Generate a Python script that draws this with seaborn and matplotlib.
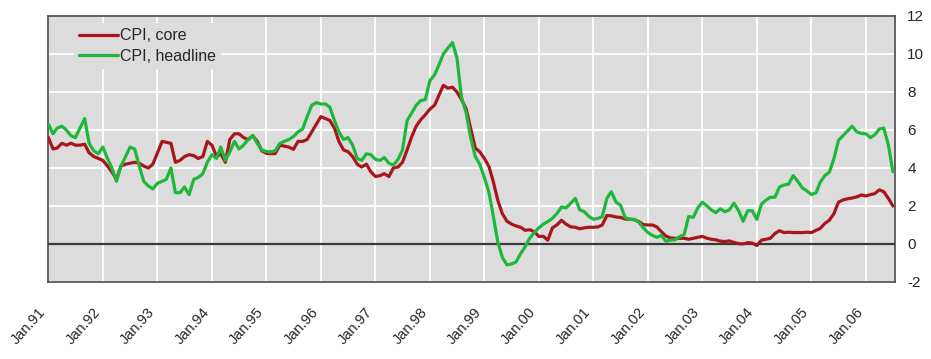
import numpy as np
import pandas as pd
import seaborn as sns
import matplotlib.pyplot as plt

# ---------------------------------------------------------
# data: monthly CPI inflation, Jan.91 - Jul.06
# ---------------------------------------------------------
core = [
    5.6, 5.0, 5.05, 5.3, 5.2, 5.3, 5.2, 5.2, 5.25, 4.8, 4.6, 4.5,
    4.4, 4.1, 3.8, 3.4, 4.1, 4.2, 4.25, 4.3, 4.25, 4.1, 4.0, 4.2,
    4.8, 5.4, 5.35, 5.3, 4.3, 4.4, 4.6, 4.7, 4.65, 4.5, 4.6, 5.4,
    5.2, 4.6, 4.75, 4.3, 5.5, 5.8, 5.8, 5.6, 5.5, 5.7, 5.4, 4.9,
    4.77, 4.75, 4.76, 5.2, 5.15, 5.1, 4.98, 5.4, 5.4, 5.5, 5.9, 6.3,
    6.7, 6.6, 6.5, 6.1, 5.4, 4.95, 4.86, 4.6, 4.2, 4.05, 4.2, 3.8,
    3.55, 3.6, 3.7, 3.55, 4.0, 4.05, 4.3, 4.95, 5.65, 6.2, 6.55, 6.8,
    7.1, 7.3, 7.8, 8.35, 8.2, 8.25, 8.0, 7.6, 7.1, 6.1, 5.05, 4.85,
    4.5, 4.07, 3.3, 2.3, 1.6, 1.2, 1.05, 0.95, 0.88, 0.72, 0.75, 0.65,
    0.4, 0.4, 0.2, 0.85, 1.0, 1.25, 1.05, 0.9, 0.88, 0.8, 0.85, 0.88,
    0.88, 0.9, 1.0, 1.5, 1.48, 1.42, 1.4, 1.32, 1.3, 1.28, 1.18, 1.02,
    1.0, 1.0, 0.9, 0.65, 0.42, 0.32, 0.3, 0.3, 0.3, 0.25, 0.3, 0.35,
    0.4, 0.3, 0.25, 0.22, 0.15, 0.13, 0.16, 0.08, 0.02, 0.0, 0.07, 0.05,
    -0.08, 0.2, 0.25, 0.3, 0.55, 0.7, 0.6, 0.62, 0.6, 0.6, 0.6, 0.62,
    0.6, 0.72, 0.82, 1.08, 1.25, 1.6, 2.2, 2.32, 2.38, 2.42, 2.48, 2.58,
    2.53, 2.6, 2.65, 2.85, 2.75, 2.4, 2.0,
]
headline = [
    6.3, 5.8, 6.1, 6.2, 6.0, 5.7, 5.6, 6.1, 6.6, 5.3, 4.9, 4.75,
    5.1, 4.5, 4.0, 3.3, 4.1, 4.6, 5.1, 5.0, 4.1, 3.3, 3.05, 2.9,
    3.2, 3.3, 3.4, 4.0, 2.7, 2.7, 3.0, 2.6, 3.4, 3.5, 3.7, 4.3,
    4.7, 4.5, 5.1, 4.4, 4.85, 5.4, 5.0, 5.2, 5.5, 5.7, 5.3, 4.95,
    4.86, 4.85, 4.9, 5.3, 5.4, 5.5, 5.65, 5.9, 6.05, 6.7, 7.3, 7.44,
    7.37, 7.37, 7.2, 6.5, 5.9, 5.5, 5.6, 5.2, 4.5, 4.4, 4.75, 4.7,
    4.45, 4.4, 4.55, 4.25, 4.15, 4.45, 4.95, 6.5, 6.9, 7.3, 7.55, 7.6,
    8.6, 8.9, 9.4, 10.0, 10.3, 10.6, 9.8, 7.7, 6.9, 5.6, 4.6, 4.2,
    3.5, 2.7, 1.5, 0.1, -0.7, -1.1, -1.05, -0.95, -0.5, -0.15, 0.3, 0.6,
    0.85, 1.05, 1.18, 1.35, 1.6, 1.95, 1.9, 2.14, 2.4, 1.8, 1.7, 1.45,
    1.3, 1.35, 1.44, 2.4, 2.75, 2.2, 2.05, 1.4, 1.3, 1.3, 1.15, 0.85,
    0.6, 0.45, 0.35, 0.45, 0.15, 0.2, 0.22, 0.38, 0.5, 1.45, 1.4, 1.9,
    2.2, 2.0, 1.8, 1.65, 1.85, 1.7, 1.8, 2.15, 1.75, 1.2, 1.75, 1.75,
    1.3, 2.1, 2.3, 2.46, 2.46, 3.0, 3.1, 3.15, 3.6, 3.3, 2.95, 2.8,
    2.6, 2.7, 3.25, 3.6, 3.78, 4.5, 5.45, 5.7, 5.95, 6.2, 5.9, 5.82,
    5.8, 5.6, 5.74, 6.05, 6.1, 5.2, 3.8,
]
series_names = ["CPI, core", "CPI, headline"]
tick_years = list(range(1991, 2007))
tick_labels = [f"Jan.{y % 100:02d}" for y in tick_years]
y_ticks = [-2, 0, 2, 4, 6, 8, 10, 12]

months = pd.date_range("1991-01-01", periods=len(core), freq="MS")
df = pd.DataFrame({"date": months, series_names[0]: core, series_names[1]: headline})
df = df.melt(id_vars="date", var_name="series", value_name="value")

# ---------------------------------------------------------
# plot
# ---------------------------------------------------------
sns.set_style("white")
plt.rcParams["font.family"] = ["Liberation Sans", "DejaVu Sans"]

fig = plt.figure(figsize=(9.31, 3.59), dpi=100)
ax = fig.add_axes([0.052, 0.2145, 0.909, 0.741])
ax.set_facecolor("#dcdcdc")
ax.set_axisbelow(True)
ax.grid(True, color="white", lw=1.3)
ax.axhline(0, color="#3a3a3a", lw=1.6, zorder=2)

sns.lineplot(data=df, x="date", y="value", hue="series", hue_order=series_names,
             palette={"CPI, core": "#a8161b", "CPI, headline": "#1db83a"},
             lw=2.3, errorbar=None, ax=ax, zorder=3)

ax.set_xlim(months[0], months[-1] + pd.Timedelta(days=12))
ax.set_ylim(-2, 12)
ax.set_xlabel("")
ax.set_ylabel("")

# slanted labels hang just left of their tick (anchored at bottom-right corner)
ax.set_xticks(pd.to_datetime([f"{y}-01-01" for y in tick_years]))
ax.set_xticklabels(tick_labels, rotation=48, ha="right", va="bottom",
                   rotation_mode="anchor", fontsize=10.5)

ax.yaxis.tick_right()
ax.set_yticks(y_ticks)
ax.set_yticklabels([str(v) for v in y_ticks], fontsize=11)
ax.tick_params(axis="both", length=0)
ax.tick_params(axis="y", pad=9)
ax.tick_params(axis="x", pad=23.5)

for s in ax.spines.values():
    s.set_color("#4a4a4a")
    s.set_linewidth(1.2)

handles, labels = ax.get_legend_handles_labels()
ax.legend(handles, labels, title=None, loc="upper left", bbox_to_anchor=(0.03, 0.972),
          frameon=True, facecolor="#dcdcdc", edgecolor="none", framealpha=1,
          fontsize=11.5, handlelength=2.45, handletextpad=0.15, labelspacing=0.35,
          borderpad=0.3, borderaxespad=0, fancybox=False)

fig.savefig("out.png", dpi=100)
